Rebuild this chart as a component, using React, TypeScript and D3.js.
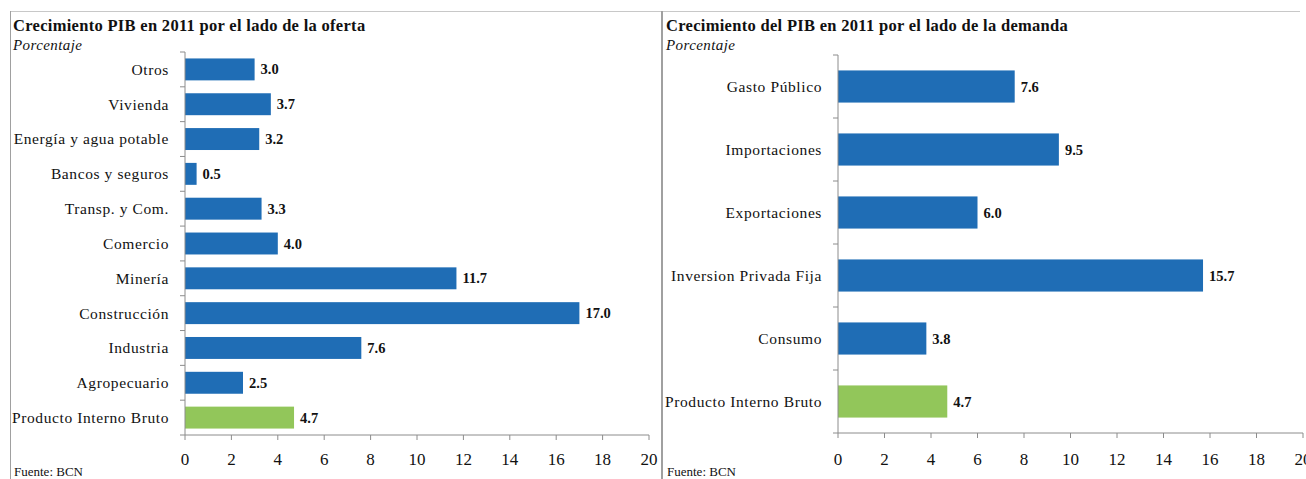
import React from "react";
import * as d3 from "d3";

const supplyCategories = [
  "Otros",
  "Vivienda",
  "Energía y agua potable",
  "Bancos y seguros",
  "Transp. y Com.",
  "Comercio",
  "Minería",
  "Construcción",
  "Industria",
  "Agropecuario",
  "Producto Interno Bruto",
];
const supplyValues = [3.0, 3.7, 3.2, 0.5, 3.3, 4.0, 11.7, 17.0, 7.6, 2.5, 4.7];

const demandCategories = [
  "Gasto Público",
  "Importaciones",
  "Exportaciones",
  "Inversion Privada Fija",
  "Consumo",
  "Producto Interno Bruto",
];
const demandValues = [7.6, 9.5, 6.0, 15.7, 3.8, 4.7];

const xTicks = [0, 2, 4, 6, 8, 10, 12, 14, 16, 18, 20];

const BLUE = "#1f6db5";
const GREEN = "#92c65a";
const AXIS = "#8c8c8c";
const FONT = "'Liberation Serif', 'DejaVu Serif', serif";

type PanelProps = {
  title: string;
  cats: string[];
  vals: number[];
  x0: number;
  x1: number;
  y0: number;
  y1: number;
  padInner: number;
  textX: number;
};

function Panel({ title, cats, vals, x0, x1, y0, y1, padInner, textX }: PanelProps) {
  const x = d3.scaleLinear().domain([0, 20]).range([x0, x1]);
  const y = d3
    .scaleBand<string>()
    .domain(cats)
    .range([y0, y1])
    .paddingInner(padInner)
    .paddingOuter(padInner / 2);
  const step = y.step();
  const boundaries = d3.range(cats.length + 1).map((i) => y0 + i * step);
  return (
    <g>
      <text
        x={textX}
        y={31}
        fontFamily={FONT}
        fontWeight="bold"
        fontSize={16.5}
        letterSpacing={0.3}
        fill="#111"
      >
        {title}
      </text>
      <text
        x={textX}
        y={50}
        fontFamily={FONT}
        fontStyle="italic"
        fontSize={15}
        letterSpacing={0.4}
        fill="#111"
      >
        Porcentaje
      </text>
      {cats.map((c, i) => (
        <g key={c}>
          <rect
            x={x(0)}
            y={y(c)!}
            width={x(vals[i]) - x(0)}
            height={y.bandwidth()}
            fill={i === cats.length - 1 ? GREEN : BLUE}
          />
          <text
            x={x(vals[i]) + 6}
            y={y(c)! + y.bandwidth() / 2}
            dy="0.35em"
            fontFamily={FONT}
            fontWeight="bold"
            fontSize={14.5}
            fill="#111"
          >
            {vals[i].toFixed(1)}
          </text>
          <text
            x={x0 - 16}
            y={y(c)! + y.bandwidth() / 2}
            dy="0.35em"
            textAnchor="end"
            fontFamily={FONT}
            fontSize={15.5}
            letterSpacing={0.6}
            fill="#111"
          >
            {c}
          </text>
        </g>
      ))}
      <line x1={x0} x2={x0} y1={y0} y2={y1} stroke={AXIS} strokeWidth={1} />
      {boundaries.map((b, i) => (
        <line key={i} x1={x0 - 5} x2={x0} y1={b} y2={b} stroke={AXIS} strokeWidth={1} />
      ))}
      <line x1={x0} x2={x1} y1={y1} y2={y1} stroke={AXIS} strokeWidth={1} />
      {xTicks.map((t) => (
        <g key={t}>
          <line x1={x(t)} x2={x(t)} y1={y1} y2={y1 + 5} stroke={AXIS} strokeWidth={1} />
          <text
            x={x(t)}
            y={465}
            textAnchor="middle"
            fontFamily={FONT}
            fontSize={17}
            fill="#111"
          >
            {t}
          </text>
        </g>
      ))}
      <text x={textX + 1} y={476} fontFamily={FONT} fontSize={13} fill="#111">
        Fuente: BCN
      </text>
    </g>
  );
}

export default function App() {
  return (
    <svg
      width={1306}
      height={479}
      style={{ position: "absolute", left: 0, top: 0, background: "#fff" }}
    >
      <rect x={0} y={0} width={1306} height={479} fill="#fff" />
      <line x1={10} x2={1300} y1={11.5} y2={11.5} stroke="#c8c8c8" strokeWidth={1} />
      <line x1={10.5} x2={10.5} y1={11} y2={479} stroke="#a0a0a0" strokeWidth={1} />
      <line x1={662} x2={662} y1={11} y2={479} stroke="#a0a0a0" strokeWidth={2} />
      <Panel
        title="Crecimiento PIB en 2011 por el lado de la oferta"
        cats={supplyCategories}
        vals={supplyValues}
        x0={185}
        x1={649}
        y0={52}
        y1={435}
        padInner={0.37}
        textX={13}
      />
      <Panel
        title="Crecimiento del PIB en 2011 por el lado de la demanda"
        cats={demandCategories}
        vals={demandValues}
        x0={838}
        x1={1303}
        y0={55}
        y1={433}
        padInner={0.49}
        textX={666}
      />
    </svg>
  );
}
